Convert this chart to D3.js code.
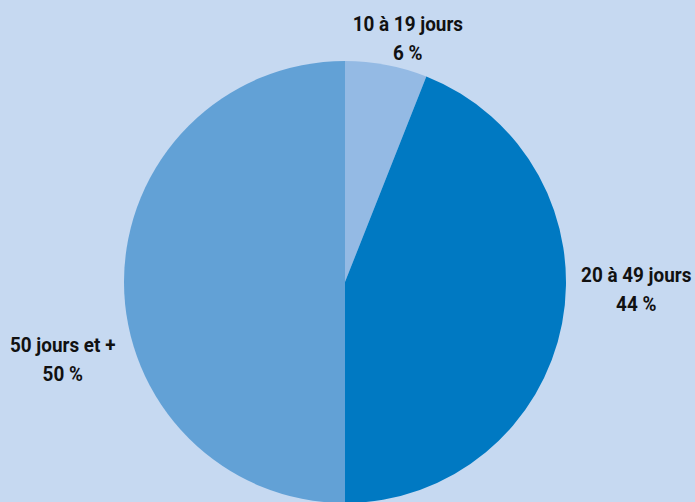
<!DOCTYPE html>
<html>
<head>
<meta charset="utf-8">
<script src="https://cdn.jsdelivr.net/npm/d3@7"></script>
<style>
  html, body { margin: 0; padding: 0; background: #c6d9f1; }
  svg { display: block; }
  text { font-family: Roboto, "Liberation Sans", sans-serif; font-weight: bold; fill: #111; }
</style>
</head>
<body>
<svg id="pie" width="695" height="502"></svg>
<script>
const categories = ["10 à 19 jours", "20 à 49 jours", "50 jours et +"];
const values = [6, 44, 50];
const valueLabels = ["6 %", "44 %", "50 %"];

const colors = ["#94bae4", "#0079c2", "#62a1d6"];
// label nudges from the outer label arc (px)
const nudge = [[9, 31], [9, -54], [5, 70]];

const svg = d3.select("#pie");
const radius = 221;
const g = svg.append("g").attr("transform", `translate(345,282)`);

const data = categories.map((c, i) => ({ name: c, value: values[i], label: valueLabels[i], i }));

const pie = d3.pie().sort(null).value((d) => d.value);
const arc = d3.arc().innerRadius(0).outerRadius(radius);
const labelArc = d3.arc().innerRadius(radius * 1.3).outerRadius(radius * 1.3);

const arcs = pie(data);

g.selectAll("path.slice")
  .data(arcs)
  .enter()
  .append("path")
  .attr("class", "slice")
  .attr("d", arc)
  .attr("fill", (d) => colors[d.data.i]);

const labels = g.selectAll("text.labels")
  .data(arcs)
  .enter()
  .append("text")
  .attr("class", "labels")
  .attr("text-anchor", "middle")
  .attr("font-size", 21)
  .attr("transform", (d) => {
    const [x, y] = labelArc.centroid(d);
    const [dx, dy] = nudge[d.data.i];
    return `translate(${x + dx},${y + dy}) scale(0.9,1)`;
  });

labels.append("tspan").attr("x", 0).attr("y", 0).text((d) => d.data.name);
labels.append("tspan").attr("x", 0).attr("y", 29).text((d) => d.data.label);
</script>
</body>
</html>
